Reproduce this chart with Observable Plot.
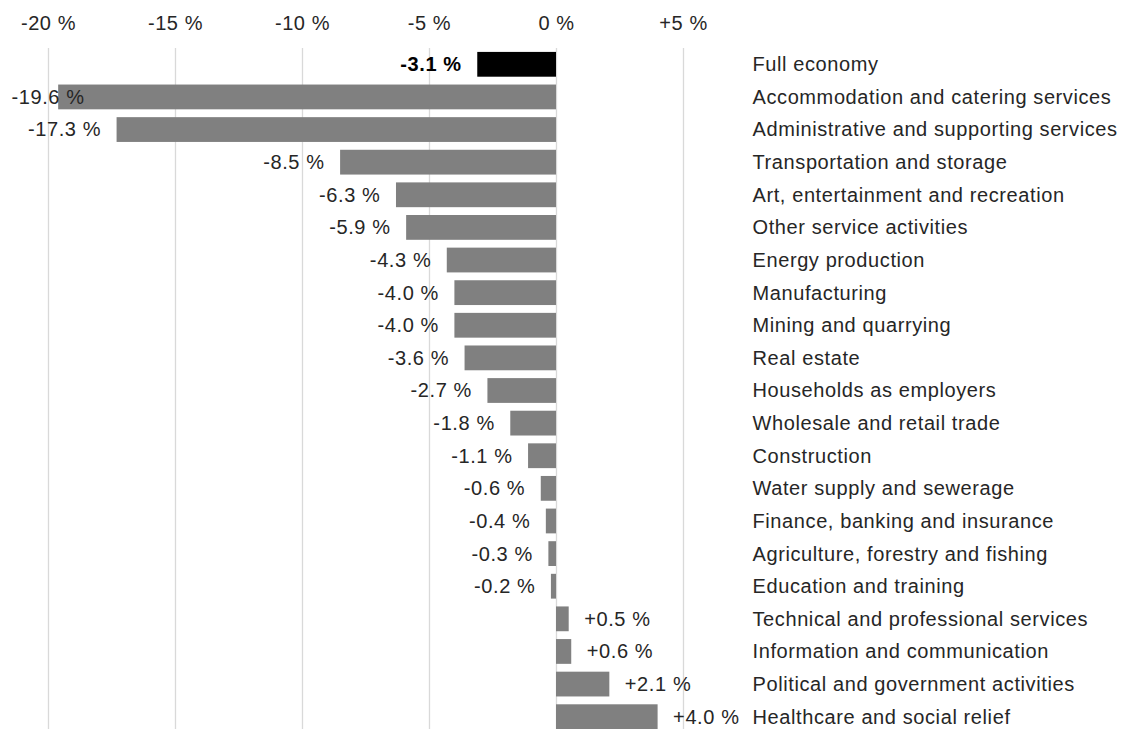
<!DOCTYPE html>
<html>
<head>
<meta charset="utf-8">
<script src="https://cdn.jsdelivr.net/npm/d3@7"></script>
<script src="https://cdn.jsdelivr.net/npm/@observablehq/plot@0.6"></script>
<style>
  html, body { margin: 0; padding: 0; background: #fff; }
  #chart svg { display: block; }
  #chart svg text { letter-spacing: 0.6px; }
</style>
</head>
<body>
<div id="chart"></div>
<script>
const categories = [
  "Full economy",
  "Accommodation and catering services",
  "Administrative and supporting services",
  "Transportation and storage",
  "Art, entertainment and recreation",
  "Other service activities",
  "Energy production",
  "Manufacturing",
  "Mining and quarrying",
  "Real estate",
  "Households as employers",
  "Wholesale and retail trade",
  "Construction",
  "Water supply and sewerage",
  "Finance, banking and insurance",
  "Agriculture, forestry and fishing",
  "Education and training",
  "Technical and professional services",
  "Information and communication",
  "Political and government activities",
  "Healthcare and social relief"
];
const values = [-3.1, -19.6, -17.3, -8.5, -6.3, -5.9, -4.3, -4.0, -4.0, -3.6, -2.7, -1.8, -1.1, -0.6, -0.4, -0.3, -0.2, 0.5, 0.6, 2.1, 4.0];
const xTicks = [-20, -15, -10, -5, 0, 5];

const data = categories.map((c, i) => ({category: c, value: values[i], total: i === 0}));
const fmtVal = v => (v > 0 ? "+" : "") + v.toFixed(1) + " %";
const fmtTick = v => v === 0 ? "0 %" : (v > 0 ? "+" : "") + v + " %";
const font = "Liberation Sans, Arial, sans-serif";
const ink = "#262626";
const fs = 20;

const inside = d => d.value >= -18;

const plot = Plot.plot({
  width: 1122,
  height: 729,
  marginTop: 48,
  marginBottom: 0,
  marginLeft: 48,
  marginRight: 439,
  style: {fontFamily: font, fontSize: fs + "px", color: ink, background: "#fff"},
  x: {domain: [-20, 5], ticks: xTicks, label: null},
  y: {domain: categories, range: [48, 733], paddingInner: 0.24, paddingOuter: 0.12, align: 0.5, round: false, label: null},
  marks: [
    Plot.gridX(xTicks, {stroke: "#d9d9d9", strokeOpacity: 1, strokeWidth: 1.3}),
    Plot.axisX(xTicks, {anchor: "top", tickSize: 0, tickPadding: 19, tickFormat: fmtTick, fontSize: fs, fill: ink, label: null}),
    Plot.axisY({anchor: "right", tickSize: 0, tickPadding: 69, fontSize: fs, fill: ink, label: null}),
    Plot.barX(data, {x: "value", y: "category", fill: d => d.total ? "#000000" : "#808080"}),
    Plot.text(data.filter(d => d.total), {
      x: "value", y: "category", text: d => fmtVal(d.value), textAnchor: "end", dx: -16,
      fontSize: fs, fill: "#000", fontWeight: "bold"
    }),
    Plot.text(data.filter(d => !d.total && inside(d) && d.value < 0), {
      x: "value", y: "category", text: d => fmtVal(d.value), textAnchor: "end", dx: -16,
      fontSize: fs, fill: ink
    }),
    Plot.text(data.filter(d => !inside(d)), {
      x: () => -20, y: "category", text: d => fmtVal(d.value), textAnchor: "start", dx: -37,
      fontSize: fs, fill: ink
    }),
    Plot.text(data.filter(d => d.value > 0), {
      x: "value", y: "category", text: d => fmtVal(d.value), textAnchor: "start", dx: 15,
      fontSize: fs, fill: ink
    })
  ]
});
document.getElementById("chart").appendChild(plot);
</script>
</body>
</html>
